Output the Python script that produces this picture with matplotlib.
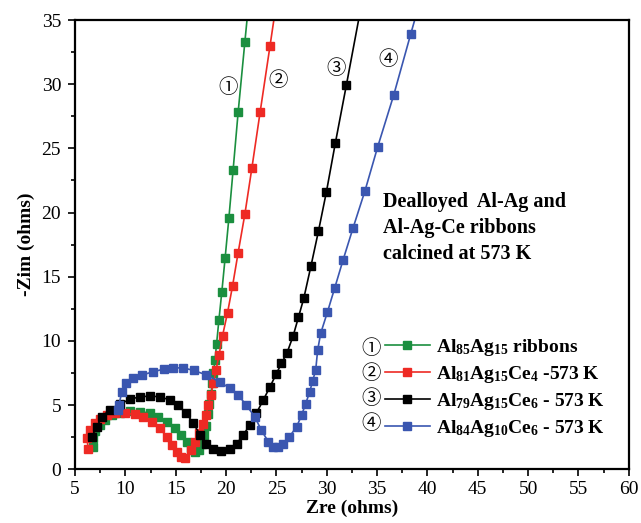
import numpy as np
import matplotlib
matplotlib.use('Agg')
import matplotlib.pyplot as plt
from matplotlib.ticker import MultipleLocator

# Nyquist data (Zre, -Zim) in ohms
zre_85 = [6.8, 6.8, 7.0, 7.45, 8.0, 8.65, 9.45, 10.45, 11.45, 12.45, 13.25, 14.1, 14.9, 15.55,
          16.1, 16.5, 16.9, 17.3, 17.6, 17.85, 18.05, 18.2, 18.35, 18.5, 18.65, 18.75, 18.9,
          19.06, 19.29, 19.58, 19.91, 20.28, 20.7, 21.2, 21.87, 22.7]
zim_85 = [1.7, 2.4, 2.95, 3.45, 3.85, 4.2, 4.42, 4.52, 4.5, 4.38, 4.1, 3.7, 3.2, 2.65,
          2.1, 1.65, 1.35, 1.5, 2.0, 2.7, 3.4, 4.3, 5.1, 5.9, 6.7, 7.5, 8.5,
          9.76, 11.63, 13.81, 16.48, 19.55, 23.3, 27.8, 33.3, 40.0]

zre_81 = [6.3, 6.2, 6.5, 7.0, 7.5, 8.15, 8.95, 9.95, 10.95, 11.8, 12.6, 13.4, 14.1, 14.6,
          15.1, 15.5, 15.9, 16.5, 16.95, 17.35, 17.7, 18.0, 18.25, 18.5, 18.75, 19.0, 19.3,
          19.65, 20.15, 20.65, 21.2, 21.87, 22.56, 23.38, 24.37, 25.5]
zim_81 = [1.6, 2.4, 3.05, 3.6, 3.95, 4.2, 4.35, 4.35, 4.28, 4.1, 3.7, 3.2, 2.55, 1.9,
          1.35, 0.95, 0.9, 1.5, 2.1, 2.8, 3.5, 4.2, 5.0, 5.8, 6.7, 7.7, 8.9,
          10.4, 12.2, 14.3, 16.87, 19.88, 23.44, 27.8, 33.0, 39.0]

zre_79 = [6.65, 7.15, 7.65, 8.45, 9.45, 10.45, 11.45, 12.45, 13.45, 14.4, 15.25, 16.05, 16.75,
          17.4, 18.05, 18.7, 19.5, 20.35, 21.05, 21.7, 22.35, 23.0, 23.7, 24.35, 25.0, 25.5,
          26.06, 26.66, 27.19, 27.72, 28.44, 29.18, 29.97, 30.86, 31.95, 34.0]
zim_79 = [2.5, 3.3, 4.05, 4.65, 5.08, 5.45, 5.65, 5.7, 5.65, 5.4, 5.0, 4.35, 3.6,
          2.7, 2.0, 1.6, 1.45, 1.6, 2.0, 2.65, 3.45, 4.35, 5.4, 6.4, 7.45, 8.25,
          9.08, 10.38, 11.84, 13.32, 15.86, 18.56, 21.62, 25.44, 29.93, 38.5]

zre_84 = [9.25, 9.35, 9.65, 10.1, 10.8, 11.7, 12.75, 13.8, 14.75, 15.75, 16.8, 18.05, 19.4,
          20.4, 21.2, 22.0, 22.85, 23.5, 24.2, 24.65, 25.2, 25.65, 26.3, 27.0, 27.5, 27.9,
          28.3, 28.6, 28.9, 29.1, 29.4, 30.07, 30.79, 31.62, 32.6, 33.8, 35.06, 36.65, 38.33, 40.0]
zim_84 = [4.6, 5.0, 6.0, 6.7, 7.1, 7.35, 7.6, 7.8, 7.9, 7.9, 7.7, 7.35, 6.8,
          6.3, 5.8, 5.0, 4.1, 3.05, 2.15, 1.75, 1.75, 2.0, 2.55, 3.3, 4.2, 5.1,
          6.0, 6.9, 7.7, 9.3, 10.59, 12.25, 14.12, 16.3, 18.77, 21.7, 25.12, 29.15, 33.88, 38.5]

labels = [r'Al$_{85}$Ag$_{15}$ ribbons',
          r'Al$_{81}$Ag$_{15}$Ce$_{4}$ -573 K',
          r'Al$_{79}$Ag$_{15}$Ce$_{6}$ - 573 K',
          r'Al$_{84}$Ag$_{10}$Ce$_{6}$ - 573 K']
colors = ['#1b8f3f', '#ee2a24', '#000000', '#3a56b0']
circled = ['\u2460', '\u2461', '\u2462', '\u2463']

plt.rcParams['font.family'] = ['Liberation Serif', 'Noto Sans CJK SC', 'DejaVu Sans']
plt.rcParams['mathtext.fontset'] = 'custom'
plt.rcParams['mathtext.rm'] = 'Liberation Serif:bold'
plt.rcParams['mathtext.default'] = 'rm'

fig = plt.figure(figsize=(6.41, 5.23), dpi=100)
ax = fig.add_axes([0.117, 0.1027, 0.864, 0.859])

series = [(zre_85, zim_85), (zre_81, zim_81), (zre_79, zim_79), (zre_84, zim_84)]
for (x, y), c, lab in zip(series, colors, labels):
    ax.plot(x, y, '-s', color=c, lw=1.2, ms=5.2, mec=c, label=lab)

ax.set_xlim(5, 60)
ax.set_ylim(0, 35)
ax.xaxis.set_major_locator(MultipleLocator(5))
ax.xaxis.set_minor_locator(MultipleLocator(2.5))
ax.yaxis.set_major_locator(MultipleLocator(5))
ax.yaxis.set_minor_locator(MultipleLocator(2.5))
ax.tick_params(which='both', direction='out', width=1.2, labelsize=14, top=False, right=False)
ax.tick_params(which='major', length=5)
ax.tick_params(which='minor', length=3)
ax.tick_params(axis='y', pad=5)
for s in ax.spines.values():
    s.set_linewidth(1.6)

ax.set_xlabel('Zre (ohms)', fontsize=14, fontweight='bold', labelpad=1)
ax.set_ylabel('-Zim (ohms)', fontsize=14, fontweight='bold', labelpad=5)

# circled numbers beside the curves
for (cx, cy), t in zip([(20.18, 29.7), (25.14, 30.3), (30.9, 31.25), (36.05, 31.9)], circled):
    ax.text(cx, cy, t, fontsize=14, ha='center', va='center')

ax.text(35.56, 18.8, 'Dealloyed  Al-Ag and\nAl-Ag-Ce ribbons\ncalcined at 573 K',
        fontsize=14.5, fontweight='bold', ha='left', va='center', linespacing=1.4)

leg = ax.legend(loc='upper left', bbox_to_anchor=(0.5596, 0.294), frameon=False,
                prop={'weight': 'bold', 'size': 14}, handlelength=2.3,
                handletextpad=0.35, labelspacing=0.3, borderpad=0, borderaxespad=0)
for i, t in enumerate(circled):
    ax.text(34.43, [9.4, 7.45, 5.5, 3.55][i], t, fontsize=14, ha='center', va='center')

fig.savefig('out.png', dpi=100)
